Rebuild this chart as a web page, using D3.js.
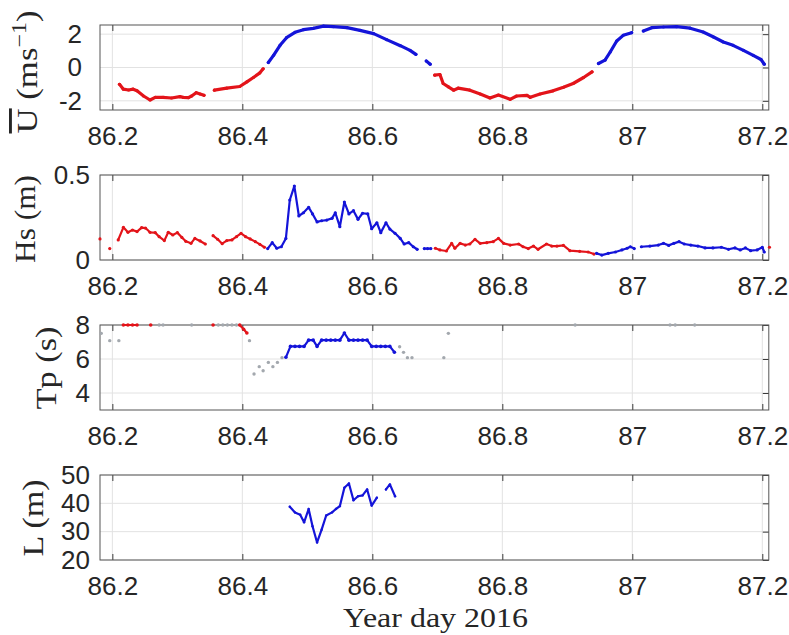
<!DOCTYPE html>
<html><head><meta charset="utf-8">
<script src="https://cdn.jsdelivr.net/npm/d3@7"></script>
<style>body{margin:0;background:#fff}svg{display:block}</style>
</head><body>
<svg id="c" width="789" height="635"></svg>
<script>
// ---------- data ----------
const xTicks = [86.2, 86.4, 86.6, 86.8, 87, 87.2];
const xTickLabels = ["86.2", "86.4", "86.6", "86.8", "87", "87.2"];

const uTicks = [-2, 0, 2];
const hsTicks = [0, 0.5];
const tpTicks = [4, 6, 8];
const lTicks = [20, 30, 40, 50];

// depth-mean current U (m/s) – red = negative, blue = positive
const uRedT = [86.211,86.217,86.225,86.232,86.238,86.248,86.258,86.266,86.278,86.291,86.304,86.309,86.317,86.322,86.329,86.335,86.341,null,
  86.357,86.376,86.396,86.407,86.417,86.427,86.432,null,
  86.696,86.704,86.709,86.717,86.725,86.732,86.750,86.766,86.781,86.794,86.812,86.822,86.838,86.843,86.858,86.878,86.894,86.909,86.925,86.938];
const uRedV = [-1.01,-1.30,-1.35,-1.30,-1.40,-1.71,-1.95,-1.79,-1.79,-1.83,-1.75,-1.79,-1.81,-1.71,-1.51,-1.59,-1.67,null,
  -1.36,-1.24,-1.14,-0.86,-0.60,-0.32,-0.08,null,
  -0.46,-0.42,-0.96,-1.16,-1.36,-1.24,-1.36,-1.59,-1.83,-1.65,-1.91,-1.71,-1.67,-1.79,-1.59,-1.40,-1.19,-0.96,-0.60,-0.26];
const uBlueT = [86.440,86.448,86.458,86.468,86.481,86.494,86.509,86.525,86.540,86.561,86.581,86.602,86.622,86.643,86.658,86.667,null,
  86.683,86.689,null,
  86.948,86.958,86.966,86.976,86.986,86.999,null,
  87.017,87.030,87.048,87.068,87.089,87.109,87.125,87.140,87.155,87.171,87.186,87.198,87.203];
const uBlueV = [0.30,0.73,1.33,1.79,2.11,2.27,2.35,2.48,2.45,2.39,2.23,2.03,1.67,1.31,1.03,0.79,null,
  0.39,0.20,null,
  0.24,0.44,0.93,1.59,1.93,2.09,null,
  2.19,2.39,2.43,2.45,2.36,2.13,1.83,1.53,1.33,1.03,0.73,0.48,0.20];

// significant wave height Hs (m)
const hsRedT = [86.181,null,86.196,null,
  86.209,86.217,86.224,86.231,86.238,86.245,86.251,86.258,86.266,86.272,86.280,86.286,86.293,86.300,86.307,86.313,86.321,86.327,86.335,86.343,null,
  86.355,86.362,86.369,86.376,86.384,86.391,86.398,86.405,86.412,86.420,86.427,86.434,null,
  86.697,86.704,86.714,86.722,86.727,86.735,86.743,86.750,86.758,86.766,86.776,86.786,86.794,86.802,86.812,86.825,86.832,86.840,86.848,86.855,86.868,86.876,86.884,86.894,86.904,86.919,86.932,86.941,null,
  87.211];
const hsRedV = [0.124,null,0.067,null,
  0.118,0.192,0.163,0.176,0.167,0.190,0.188,0.163,0.161,0.137,0.114,0.163,0.147,0.161,0.133,0.110,0.098,0.127,0.112,0.094,null,
  0.143,0.122,0.096,0.114,0.118,0.137,0.157,0.137,0.124,0.108,0.092,0.075,null,
  0.069,0.059,0.053,0.098,0.069,0.098,0.088,0.094,0.122,0.098,0.102,0.108,0.127,0.098,0.088,0.094,0.078,0.067,0.082,0.063,0.094,0.082,0.082,0.086,0.055,0.051,0.047,0.035,null,
  0.075];
const hsBlueT = [86.439,86.446,86.453,86.460,86.467,86.473,86.480,86.487,86.494,86.502,86.508,86.515,86.522,86.530,86.538,86.543,86.550,86.557,86.564,86.571,86.578,86.585,86.593,86.599,86.607,86.613,86.621,86.627,86.635,86.643,86.649,86.656,86.663,86.669,null,
  86.680,86.685,86.690,null,
  86.945,86.953,86.963,86.974,86.984,86.992,86.997,87.003,null,
  87.014,87.027,87.040,87.048,87.056,87.064,87.072,87.080,87.090,87.101,87.112,87.124,87.137,87.148,87.158,87.166,87.174,87.182,87.192,87.200,87.203];
const hsBlueV = [0.067,0.102,0.069,0.078,0.127,0.353,0.435,0.259,0.278,0.310,0.271,0.224,0.231,0.235,0.245,0.278,0.196,0.341,0.271,0.290,0.239,0.275,0.271,0.184,0.219,0.161,0.219,0.182,0.157,0.127,0.094,0.102,0.078,0.063,null,
  0.067,0.067,0.067,null,
  0.039,0.029,0.039,0.047,0.059,0.069,0.078,0.067,null,
  0.078,0.082,0.088,0.098,0.086,0.098,0.108,0.094,0.088,0.082,0.071,0.071,0.075,0.063,0.071,0.059,0.071,0.055,0.059,0.075,0.047];

// peak period Tp (s)
const tpRedT = [86.217,86.224,86.231,86.238,null,86.259,null,86.355,null,86.396,86.402,86.407];
const tpRedV = [8,8,8,8,null,8,null,8,null,8,7.75,7.53];
const tpBlueT = [86.467,86.474,86.481,86.488,86.495,86.502,86.509,86.515,86.522,86.529,86.536,86.543,86.550,86.557,86.564,86.571,86.578,86.585,86.592,86.599,86.606,86.613,86.620,86.627,86.634];
const tpBlueV = [6.10,6.74,6.74,6.74,6.74,7.11,7.11,6.74,7.11,7.11,7.11,7.11,7.11,7.53,7.11,7.11,7.11,7.11,7.11,6.74,6.74,6.74,6.74,6.74,6.40];
const tpGrayT = [86.183,86.196,86.210,86.272,86.278,86.322,86.363,86.370,86.377,86.384,86.391,86.411,86.418,86.426,86.432,86.440,86.447,86.454,86.461,86.642,86.648,86.654,86.661,86.710,86.717,86.912,87.058,87.066,87.096];
const tpGrayV = [7.51,7.08,7.08,8,8,8,8,8,8,8,8,7.08,5.12,5.55,5.31,5.80,5.55,5.80,6.08,6.72,6.39,6.08,6.08,6.08,7.51,8,8,8,8];

// wavelength L (m)
const lBlueT = [86.473,86.481,86.489,86.495,86.502,86.508,86.515,86.522,86.529,86.538,86.544,86.550,86.557,86.564,86.571,86.578,86.585,86.592,86.599,86.607,null,86.621,86.627,86.635];
const lBlueV = [38.8,36.8,36.0,33.3,38.0,31.9,26.2,30.7,35.7,36.8,38.0,39.0,45.5,47.0,41.1,42.5,42.8,44.9,39.2,42.0,null,44.9,46.7,42.5];

// ---------- drawing ----------
const RED = "#e3141a", BLUE = "#1414d9", GRAY = "#a3a8ae";
const svg = d3.select("#c");
const x = d3.scaleLinear().domain([86.181, 87.21]).range([100, 768.8]);
const SANS = "'Liberation Sans', Arial, Helvetica, sans-serif";
const SERIF = "'Liberation Serif', 'DejaVu Serif', serif";

function panel(top, yDomain, yTicks, tickRight) {
  const y = d3.scaleLinear().domain(yDomain).range([top + 85, top]);
  const g = svg.append("g");
  // grid
  g.selectAll(".gx").data(xTicks).join("line")
    .attr("x1", d => x(d)).attr("x2", d => x(d)).attr("y1", top).attr("y2", top + 85)
    .attr("stroke", "#e2e2e2").attr("stroke-width", 1);
  g.selectAll(".gy").data(yTicks).join("line")
    .attr("x1", 100).attr("x2", 768.8).attr("y1", d => y(d)).attr("y2", d => y(d))
    .attr("stroke", "#e2e2e2").attr("stroke-width", 1);
  // axes using d3 axis (inward ticks)
  const ax = d3.axisBottom(x).tickValues(xTicks).tickFormat((d, i) => xTickLabels[i]).tickSize(-6).tickPadding(17);
  const gxA = g.append("g").attr("transform", `translate(0,${top + 85})`).call(ax);
  const axT = d3.axisTop(x).tickValues(xTicks).tickFormat("").tickSize(-6);
  g.append("g").attr("transform", `translate(0,${top})`).call(axT);
  const ay = d3.axisLeft(y).tickValues(yTicks).tickFormat(d => d3.format("~g")(d).replace("−", "-")).tickSize(0).tickPadding(100 - tickRight);
  g.append("g").attr("transform", "translate(100,0)").call(ay);
  const ayR = d3.axisLeft(y).tickValues(yTicks).tickFormat("").tickSize(6);
  g.append("g").attr("transform", "translate(768.8,0)").call(ayR);
  g.selectAll(".domain").remove();
  g.selectAll(".tick line").attr("stroke", "#3a3a3a");
  g.selectAll(".tick text").attr("font-family", SANS).attr("font-size", 26).attr("fill", "#262626");
  gxA.selectAll(".tick text").attr("dy", "0.71em");
  // frame
  g.append("rect").attr("x", 100).attr("y", top).attr("width", 668.8).attr("height", 85)
    .attr("fill", "none").attr("stroke", "#555").attr("stroke-width", 1);
  return { g, y };
}

function series(p, T, V, color, lw, r, withLine) {
  const pts = T.map((t, i) => ({ t, v: V[i] }));
  const def = d => d.t != null && d.v != null;
  if (withLine) {
    const line = d3.line().defined(def).x(d => x(d.t)).y(d => p.y(d.v));
    p.g.append("path").datum(pts).attr("d", line).attr("fill", "none")
      .attr("stroke", color).attr("stroke-width", lw).attr("stroke-linejoin", "round").attr("stroke-linecap", "round");
  }
  p.g.append("g").selectAll("circle").data(pts.filter(def)).join("circle")
    .attr("cx", d => x(d.t)).attr("cy", d => p.y(d.v)).attr("r", r).attr("fill", color);
}

function ylabel(xb, yc, len, parts) {
  const t = svg.append("text").attr("transform", `translate(${xb},${yc}) rotate(-90)`)
    .attr("text-anchor", "middle").attr("font-family", SERIF).attr("font-size", 29).attr("fill", "#262626");
  parts(t);
  if (len) t.attr("textLength", len).attr("lengthAdjust", "spacingAndGlyphs");
  return t;
}

// Panel 1: U
const p1 = panel(25, [-2.55, 2.55], uTicks, 82);
series(p1, uRedT, uRedV, RED, 3.2, 1.6, true);
series(p1, uBlueT, uBlueV, BLUE, 3.2, 1.6, true);
ylabel(37, 72, 123, t => {
  t.append("tspan").style("text-decoration", "overline").text("U");
  t.append("tspan").text(" (ms");
  t.append("tspan").attr("font-size", 20).attr("dy", -11).text("−1");
  t.append("tspan").attr("dy", 11).text(")");
});

// Panel 2: Hs
const p2 = panel(175, [0, 0.5], hsTicks, 90);
series(p2, hsRedT, hsRedV, RED, 2.2, 1.6, true);
series(p2, hsBlueT, hsBlueV, BLUE, 2.2, 1.6, true);
ylabel(35, 219, 88, t => t.text("Hs (m)"));

// Panel 3: Tp
const p3 = panel(325, [3, 8], tpTicks, 90);
series(p3, tpGrayT, tpGrayV, GRAY, 0, 1.7, false);
series(p3, tpRedT, tpRedV, RED, 2.2, 1.8, true);
series(p3, tpBlueT, tpBlueV, BLUE, 2.2, 1.8, true);
ylabel(56, 368, 83, t => t.text("Tp (s)"));

// Panel 4: L
const p4 = panel(475, [20, 50], lTicks, 90);
series(p4, lBlueT, lBlueV, BLUE, 2.2, 1.2, true);
ylabel(43, 518, 77, t => t.text("L (m)"));

// x label
svg.append("text").attr("x", 435.5).attr("y", 627).attr("text-anchor", "middle")
  .attr("font-family", SERIF).attr("font-size", 27).attr("fill", "#262626")
  .attr("textLength", 185).attr("lengthAdjust", "spacingAndGlyphs").text("Year day 2016");
</script>
</body></html>
